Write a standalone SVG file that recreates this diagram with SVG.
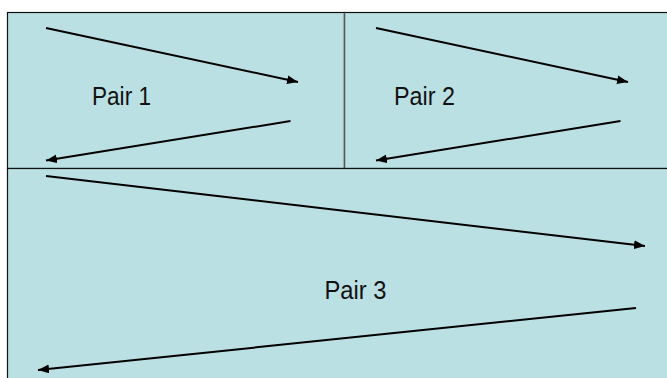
<svg xmlns="http://www.w3.org/2000/svg" width="667" height="378" viewBox="0 0 667 378">
<style>
.box{fill:#BAE0E3;stroke:#111;stroke-width:1.2}
.lbl{font-family:"Liberation Sans",Arial,sans-serif;font-size:25px;fill:#111}
.arr{stroke:#000;stroke-width:2;fill:none;marker-end:url(#ah)}
</style>
<defs>
<marker id="ah" markerUnits="userSpaceOnUse" viewBox="0 0 10 8" markerWidth="11" markerHeight="9" refX="10" refY="4" orient="auto">
<path d="M0,0 L10,4 L0,8 Z" fill="#000"/>
</marker>
</defs>
<rect width="667" height="378" fill="#fff"/>
<g id="pair1">
<rect class="box" x="7.5" y="12.5" width="337" height="156"/>
<text class="lbl" x="92" y="104.5" textLength="59" lengthAdjust="spacingAndGlyphs">Pair 1</text>
</g>
<g id="pair2">
<rect class="box" x="344.5" y="12.5" width="340" height="156"/>
<line x1="344.5" y1="12.5" x2="344.5" y2="168.5" stroke="#555" stroke-width="1.2"/>
<text class="lbl" x="394" y="104.5" textLength="61" lengthAdjust="spacingAndGlyphs">Pair 2</text>
</g>
<g id="pair3">
<rect class="box" x="7.5" y="168.5" width="680" height="220"/>
<text class="lbl" x="324.5" y="298.5" textLength="62" lengthAdjust="spacingAndGlyphs">Pair 3</text>
</g>
<g id="connectors">
<line class="arr" x1="46" y1="28" x2="298" y2="82"/>
<line class="arr" x1="290.5" y1="121" x2="46" y2="160.5"/>
<line class="arr" x1="376" y1="28" x2="628" y2="82"/>
<line class="arr" x1="620.5" y1="121" x2="376" y2="160.5"/>
<line class="arr" x1="46" y1="176" x2="645" y2="246"/>
<line class="arr" x1="636" y1="308" x2="38" y2="370"/>
</g>
</svg>
